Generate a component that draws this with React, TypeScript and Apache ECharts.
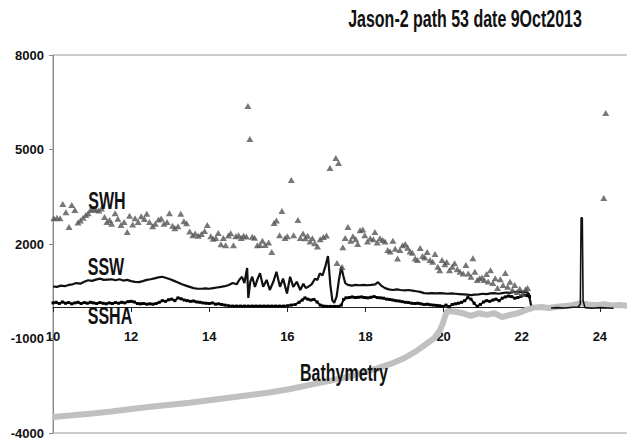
import { useEffect, useRef } from 'react';
import * as echarts from 'echarts';

const titleText = 'Jason-2 path 53 date 9Oct2013';
const seriesNames = ['SWH', 'SSW', 'SSHA', 'Bathymetry'];
const xTicks = [10, 12, 14, 16, 18, 20, 22, 24];
const yTicks = [-4000, -1000, 2000, 5000, 8000];

const swh: [number, number][] = [
  [10.02, 2820], [10.1, 2830], [10.18, 2820], [10.25, 3270], [10.33, 3010], [10.41, 2540], [10.48, 3240], [10.56, 3080],
  [10.64, 2680], [10.7, 2750], [10.77, 2830], [10.84, 2920], [10.9, 2980], [10.96, 3080], [11.03, 3120], [11.1, 3090],
  [11.17, 3060], [11.24, 3130], [11.32, 2860], [11.38, 2700], [11.45, 2760], [11.5, 2640], [11.59, 2980], [11.66, 2800],
  [11.74, 2600], [11.82, 2700], [11.9, 2380], [11.96, 2900], [12.04, 2620], [12.1, 2820], [12.18, 2700], [12.26, 2880],
  [12.34, 2790], [12.4, 2960], [12.47, 2700], [12.55, 2560], [12.62, 2640], [12.7, 2780], [12.77, 2810], [12.84, 2640],
  [12.92, 2700], [12.98, 2980], [13.06, 2580], [13.12, 2500], [13.2, 2560], [13.27, 2960], [13.35, 2720], [13.42, 2660],
  [13.5, 2400], [13.58, 2280], [13.64, 2330], [13.72, 2260], [13.8, 2320], [13.88, 2410], [13.95, 2600], [14.04, 2250],
  [14.1, 2170], [14.17, 2190], [14.23, 2350], [14.3, 1990], [14.36, 2190], [14.42, 1960], [14.49, 2270], [14.55, 2340],
  [14.62, 1960], [14.68, 2250], [14.75, 2280], [14.82, 2190], [14.88, 2260], [14.95, 2240], [14.99, 6380], [15.04, 5330],
  [15.1, 2230], [15.16, 2200], [15.23, 1960], [15.3, 1970], [15.36, 2100], [15.43, 1970], [15.52, 2050], [15.6, 1750],
  [15.66, 2670], [15.72, 2750], [15.8, 2280], [15.86, 3050], [15.94, 2190], [16.0, 2250], [16.1, 4030], [16.16, 2280],
  [16.27, 2760], [16.33, 2190], [16.4, 2330], [16.46, 2180], [16.52, 2260], [16.58, 2080], [16.64, 2180], [16.7, 2020],
  [16.77, 1920], [16.84, 2150], [16.92, 2220], [17.0, 2270], [17.09, 4410], [17.24, 4730], [17.31, 4570], [17.27, 1400],
  [17.4, 1270], [17.42, 1900], [17.48, 2190], [17.55, 2540], [17.62, 2100], [17.68, 2250], [17.75, 2150], [17.8, 2000],
  [17.86, 2440], [17.93, 2460], [17.98, 2280], [18.05, 2080], [18.12, 2180], [18.2, 2150], [18.24, 2380], [18.3, 2050],
  [18.37, 2180], [18.44, 2130], [18.5, 2080], [18.57, 1810], [18.63, 1760], [18.7, 2100], [18.76, 1850], [18.82, 1540],
  [18.88, 1810], [18.95, 1960], [19.02, 2000], [19.08, 1880], [19.14, 1760], [19.2, 1720], [19.27, 1540], [19.33, 1490],
  [19.4, 1870], [19.46, 1620], [19.52, 1570], [19.58, 1750], [19.65, 1490], [19.72, 1440], [19.78, 1680], [19.85, 1280],
  [19.9, 1170], [19.96, 1490], [20.03, 1360], [20.08, 1430], [20.15, 1170], [20.22, 1280], [20.28, 1390], [20.35, 1200],
  [20.42, 1120], [20.5, 1060], [20.57, 1330], [20.63, 1060], [20.7, 960], [20.75, 1550], [20.8, 1120], [20.86, 860],
  [20.92, 910], [20.98, 940], [21.04, 860], [21.1, 1050], [21.14, 810], [21.2, 1170], [21.26, 760], [21.32, 910],
  [21.38, 600], [21.45, 880], [21.52, 700], [21.58, 1080], [21.64, 640], [21.7, 800], [21.76, 540], [21.82, 700],
  [21.88, 480], [21.95, 580], [22.02, 430], [22.1, 560], [22.15, 600], [24.1, 3460], [24.15, 6160],
];

const ssw: [number, number][] = [
  [10.0, 650], [10.1, 640], [10.2, 680], [10.3, 660], [10.4, 700], [10.5, 720], [10.6, 760], [10.7, 740], [10.8, 800],
  [10.9, 850], [11.0, 830], [11.1, 870], [11.2, 900], [11.3, 860], [11.4, 870], [11.5, 880], [11.6, 850], [11.7, 880],
  [11.8, 840], [11.9, 860], [12.0, 820], [12.1, 800], [12.2, 790], [12.3, 820], [12.4, 860], [12.5, 880], [12.6, 910],
  [12.7, 940], [12.8, 960], [12.9, 920], [13.0, 880], [13.1, 830], [13.2, 780], [13.3, 720], [13.4, 680], [13.5, 640],
  [13.6, 600], [13.7, 580], [13.8, 580], [13.9, 590], [14.0, 580], [14.1, 600], [14.2, 620], [14.3, 640], [14.4, 660],
  [14.5, 700], [14.6, 760], [14.7, 720], [14.78, 880], [14.84, 960], [14.9, 760], [14.97, 1240], [15.0, 290],
  [15.05, 800], [15.1, 960], [15.17, 640], [15.24, 900], [15.3, 1070], [15.38, 640], [15.47, 860], [15.55, 540],
  [15.64, 800], [15.72, 1120], [15.81, 640], [15.89, 900], [15.99, 430], [16.07, 960], [16.15, 640], [16.24, 800],
  [16.33, 540], [16.41, 740], [16.47, 600], [16.53, 640], [16.62, 720], [16.71, 900], [16.77, 860], [16.83, 1070],
  [16.9, 1000], [16.97, 1280], [17.04, 1620], [17.1, 700], [17.15, 220], [17.2, 130], [17.26, 330], [17.32, 860],
  [17.38, 1280], [17.43, 1000], [17.48, 760], [17.55, 700], [17.65, 680], [17.75, 700], [17.85, 690], [17.95, 700],
  [18.05, 690], [18.15, 700], [18.25, 720], [18.32, 790], [18.4, 680], [18.5, 600], [18.6, 560], [18.7, 540],
  [18.8, 560], [18.9, 540], [19.0, 530], [19.1, 540], [19.2, 520], [19.3, 500], [19.4, 480], [19.5, 440], [19.6, 430],
  [19.7, 440], [19.8, 430], [19.9, 440], [20.0, 430], [20.1, 420], [20.2, 430], [20.3, 420], [20.4, 410], [20.5, 400],
  [20.6, 390], [20.7, 380], [20.8, 390], [20.9, 400], [21.0, 420], [21.1, 410], [21.2, 430], [21.3, 440], [21.4, 420],
  [21.5, 440], [21.6, 460], [21.7, 450], [21.8, 480], [21.9, 470], [22.0, 490], [22.1, 480], [22.18, 420], [22.24, 50],
];

const sswTail: [number, number][] = [
  [22.75, -30], [22.9, -20], [23.1, -30], [23.3, -10], [23.45, 0], [23.5, 100], [23.51, 1600], [23.52, 2830],
  [23.55, 2830], [23.57, 200], [23.62, -20], [23.8, -40], [24.0, -20], [24.2, -30], [24.35, -40],
];

const ssha: [number, number][] = [
  [10.0, 130], [10.08, 150], [10.16, 110], [10.24, 160], [10.32, 120], [10.4, 140], [10.48, 100], [10.56, 130],
  [10.64, 150], [10.72, 110], [10.8, 140], [10.88, 120], [10.96, 150], [11.04, 130], [11.12, 110], [11.2, 140],
  [11.28, 120], [11.36, 100], [11.44, 130], [11.52, 110], [11.6, 140], [11.68, 120], [11.76, 150], [11.84, 130],
  [11.92, 170], [12.0, 180], [12.08, 160], [12.16, 110], [12.24, 100], [12.32, 110], [12.4, 90], [12.48, 100],
  [12.56, 90], [12.64, 110], [12.72, 150], [12.8, 200], [12.88, 180], [12.96, 230], [13.04, 250], [13.12, 200],
  [13.2, 290], [13.28, 260], [13.36, 220], [13.44, 200], [13.52, 180], [13.6, 190], [13.68, 160], [13.76, 150],
  [13.84, 130], [13.92, 120], [14.0, 110], [14.08, 130], [14.16, 90], [14.24, 100], [14.32, 80], [14.4, 60],
  [14.5, 40], [14.6, 30], [14.7, 30], [14.8, 30], [14.9, 30], [15.0, 30], [15.1, 30], [15.2, 30], [15.3, 30],
  [15.4, 30], [15.5, 30], [15.6, 30], [15.7, 30], [15.8, 30], [15.9, 30], [16.0, 40], [16.1, 60], [16.2, 80],
  [16.3, 150], [16.38, 220], [16.45, 290], [16.52, 250], [16.6, 220], [16.68, 240], [16.76, 160], [16.84, 60],
  [16.92, 30], [17.0, 20], [17.1, 20], [17.2, 20], [17.3, 20], [17.38, 60], [17.44, 240], [17.5, 290], [17.58, 300],
  [17.66, 320], [17.74, 300], [17.82, 310], [17.9, 320], [17.98, 300], [18.06, 290], [18.14, 310], [18.22, 330],
  [18.3, 300], [18.38, 290], [18.46, 280], [18.54, 250], [18.62, 240], [18.7, 220], [18.78, 200], [18.86, 190],
  [18.94, 170], [19.02, 150], [19.1, 140], [19.18, 120], [19.26, 110], [19.34, 120], [19.42, 100], [19.5, 80],
  [19.58, 90], [19.66, 70], [19.74, 60], [19.82, 50], [19.9, 40], [19.98, 20], [20.06, 60], [20.14, 10], [20.22, 80],
  [20.3, 100], [20.38, 120], [20.46, 150], [20.54, 200], [20.62, 300], [20.7, 250], [20.78, 120], [20.86, 20],
  [20.94, 80], [21.02, 160], [21.1, 200], [21.18, 180], [21.26, 220], [21.34, 250], [21.42, 200], [21.5, 280],
  [21.58, 320], [21.66, 350], [21.74, 330], [21.82, 280], [21.9, 300], [21.98, 340], [22.06, 380], [22.14, 360],
  [22.2, 330],
];

const bathymetry: [number, number][] = [
  [10.0, -3490], [10.5, -3440], [11.0, -3380], [11.5, -3320], [12.0, -3240], [12.5, -3170], [13.0, -3100],
  [13.5, -3040], [14.0, -2960], [14.5, -2880], [15.0, -2800], [15.5, -2720], [16.0, -2620], [16.32, -2540],
  [16.7, -2440], [17.0, -2370], [17.5, -2230], [18.0, -2060], [18.3, -1950], [18.7, -1780], [19.0, -1620],
  [19.3, -1400], [19.57, -1160], [19.75, -1000], [19.9, -750], [19.98, -520], [20.05, -250], [20.1, -120],
  [20.3, -150], [20.5, -200], [20.7, -280], [20.9, -200], [21.1, -250], [21.3, -200], [21.5, -320], [21.7, -250],
  [21.9, -200], [22.1, -100], [22.3, -20], [22.5, 0], [22.7, -30], [22.9, 10], [23.1, 30], [23.3, 60], [23.5, 120],
  [23.7, 80], [23.9, 60], [24.1, 90], [24.3, 50], [24.5, 60], [24.72, 40],
];

const X_MIN = 10;
const X_MAX = 24.72;
const Y_MIN = -4000;
const Y_MAX = 8000;

const FONT = "'Liberation Sans', Arial, Helvetica, sans-serif";

function label(text: string, x: number, y: number) {
  return {
    type: 'text',
    x,
    y,
    scaleY: 1.45,
    z: 100,
    style: {
      text,
      x: 0,
      y: 0,
      textAlign: 'center',
      textVerticalAlign: 'middle',
      align: 'center',
      verticalAlign: 'middle',
      fontSize: 16,
      fontWeight: 'bold',
      fontFamily: FONT,
      fill: '#111',
    },
  };
}

export default function App() {
  const ref = useRef<HTMLDivElement>(null);
  useEffect(() => {
    const chart = echarts.init(ref.current!, null, { renderer: 'svg' });
    const labelStyle = {
      fontSize: 13,
      fontWeight: 'bold',
      color: '#111',
      fontFamily: FONT,
      formatter: (v: number) => String(v),
    };
    chart.setOption({
      animation: false,
      backgroundColor: '#fff',
      grid: [
        {
          left: 53,
          top: 55,
          right: -1,
          bottom: 5,
          show: true,
          borderColor: '#9a9a9a',
          borderWidth: 1,
          outerBoundsMode: 'none',
        },
        {
          // carries the x axis drawn along the zero line of the main grid
          left: 53,
          top: 55,
          right: -1,
          bottom: 131,
          show: false,
          outerBoundsMode: 'none',
        },
      ],
      xAxis: [
        {
          gridIndex: 0,
          type: 'value',
          min: X_MIN,
          max: X_MAX,
          axisLine: { show: false, onZero: false },
          axisTick: { show: false },
          axisLabel: { show: false },
          splitLine: { show: false },
        },
        {
          gridIndex: 1,
          type: 'value',
          min: X_MIN,
          max: X_MAX,
          position: 'bottom',
          axisLine: { show: true, onZero: false, lineStyle: { color: '#222', width: 1 } },
          axisTick: { show: true, customValues: xTicks, length: 5, lineStyle: { color: '#222' } },
          axisLabel: { ...labelStyle, customValues: xTicks, margin: 23 },
          splitLine: { show: false },
        },
      ],
      yAxis: [
        {
          gridIndex: 0,
          type: 'value',
          min: Y_MIN,
          max: Y_MAX,
          axisLine: { show: true, lineStyle: { color: '#888', width: 1 } },
          axisTick: { show: true, customValues: yTicks, length: 4, lineStyle: { color: '#888' } },
          axisLabel: { ...labelStyle, customValues: yTicks, margin: 9 },
          splitLine: { show: false },
        },
        {
          gridIndex: 1,
          type: 'value',
          min: 0,
          max: Y_MAX,
          show: false,
        },
      ],
      series: [
        {
          name: seriesNames[3],
          type: 'line',
          data: bathymetry,
          showSymbol: false,
          lineStyle: { color: '#c0c0c0', width: 6 },
          z: 1,
        },
        {
          name: seriesNames[2],
          type: 'line',
          data: ssha,
          symbol: 'rect',
          symbolSize: 3,
          showSymbol: true,
          itemStyle: { color: '#000' },
          lineStyle: { color: '#000', width: 2 },
          z: 3,
        },
        {
          name: seriesNames[1],
          type: 'line',
          data: ssw,
          showSymbol: false,
          lineStyle: { color: '#111', width: 2.2 },
          z: 3,
        },
        {
          name: seriesNames[1] + ' tail',
          type: 'line',
          data: sswTail,
          showSymbol: false,
          lineStyle: { color: '#111', width: 1.6 },
          z: 3,
        },
        {
          name: seriesNames[0],
          type: 'scatter',
          data: swh,
          symbol: 'triangle',
          symbolSize: [7, 6],
          itemStyle: { color: '#555' },
          z: 4,
        },
      ],
      graphic: [
        label(titleText, 465, 19),
        label(seriesNames[0], 107, 201),
        label(seriesNames[1], 106, 267),
        label(seriesNames[2], 110, 316),
        label(seriesNames[3], 344, 373),
      ],
    });
    return () => chart.dispose();
  }, []);
  return (
    <div
      ref={ref}
      style={{ position: 'fixed', left: 0, top: 0, width: 627, height: 438, background: '#fff' }}
    />
  );
}
